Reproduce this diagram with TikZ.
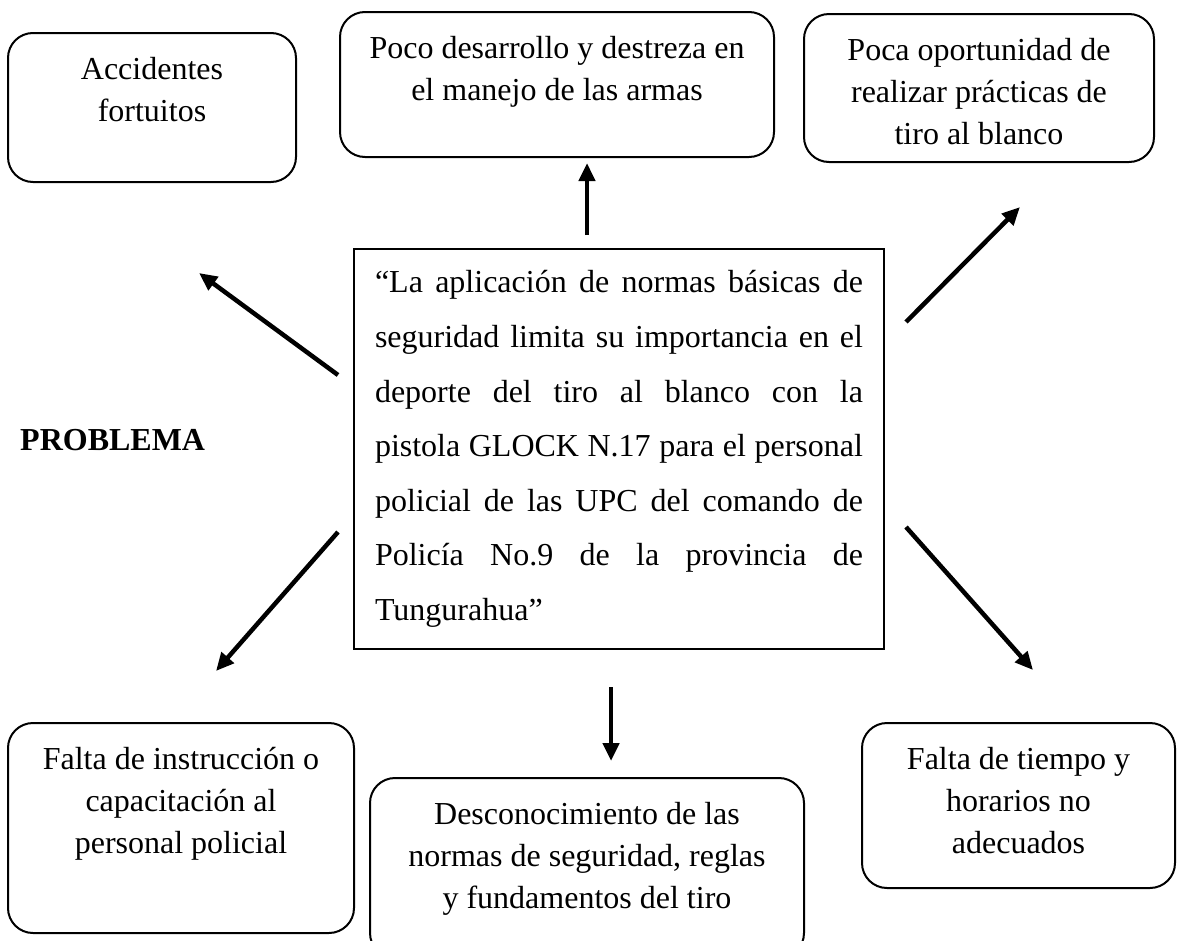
\documentclass[tikz,border=0pt]{standalone}
\usepackage{fontspec}
\setmainfont{Liberation Serif}
\usetikzlibrary{arrows.meta}
\newcommand\rbtext[3]{\parbox[c][#2][t]{#1}{\centering\rule{0pt}{46pt}#3}}
\begin{document}
\begin{tikzpicture}[x=1pt,y=-1pt,
  rbox/.style={draw, line width=2pt, rounded corners=25pt, inner sep=0pt, font=\fontsize{32}{42}\selectfont},
  cbox/.style={draw, line width=2pt, inner xsep=21pt, inner ysep=0pt, minimum height=400pt, font=\fontsize{32}{54.6}\selectfont},
  lbl/.style={inner sep=0pt, anchor=west, font=\bfseries\fontsize{32}{38}\selectfont},
  arr/.style={line width=4.5pt, -{Triangle[length=18pt,width=16pt]}},
]
\useasboundingbox (0,0) rectangle (1180,940);

\node[rbox] (acc) at (152,107.5) {\rbtext{288pt}{149pt}{Accidentes\\fortuitos}};
\node[rbox] (poco) at (557,84.5) {\rbtext{434pt}{145pt}{Poco desarrollo y destreza en\\el manejo de las armas}};
\node[rbox] (oport) at (979,88) {\rbtext{350pt}{148pt}{Poca oportunidad de\\realizar prácticas de\\tiro al blanco}};
\node[rbox] (instr) at (181,828) {\rbtext{346pt}{210pt}{Falta de instrucción o\\capacitación al\\personal policial}};
\node[rbox] (desc) at (587,868) {\rbtext{434pt}{180pt}{Desconocimiento de las\\normas de seguridad, reglas\\y fundamentos del tiro}};
\node[rbox] (tiempo) at (1018.5,805.5) {\rbtext{313pt}{165pt}{Falta de tiempo y\\horarios no\\adecuados}};

\node[cbox] (prob) at (619,449) {\parbox{488pt}{%
\makebox[488pt][s]{“La aplicación de normas básicas de}\\
\makebox[488pt][s]{seguridad limita su importancia en el}\\
\makebox[488pt][s]{deporte del tiro al blanco con la}\\
\makebox[488pt][s]{pistola GLOCK N.17 para el personal}\\
\makebox[488pt][s]{policial de las UPC del comando de}\\
\makebox[488pt][s]{Policía No.9 de la provincia de}\\
Tungurahua”}};

\node[lbl] (problema) at (20,440) {PROBLEMA};

\coordinate (u1) at (587,235); \coordinate (u2) at (587,163);
\coordinate (d1) at (611,687); \coordinate (d2) at (611,761);
\coordinate (ul1) at (338,375); \coordinate (ul2) at (199,273);
\coordinate (ur1) at (906,322); \coordinate (ur2) at (1020,207);
\coordinate (ll1) at (338,532); \coordinate (ll2) at (216,671);
\coordinate (lr1) at (906,527); \coordinate (lr2) at (1033,670);

\draw[arr] (u1) -- (u2);
\draw[arr] (d1) -- (d2);
\draw[arr] (ul1) -- (ul2);
\draw[arr] (ur1) -- (ur2);
\draw[arr] (ll1) -- (ll2);
\draw[arr] (lr1) -- (lr2);
\end{tikzpicture}
\end{document}
